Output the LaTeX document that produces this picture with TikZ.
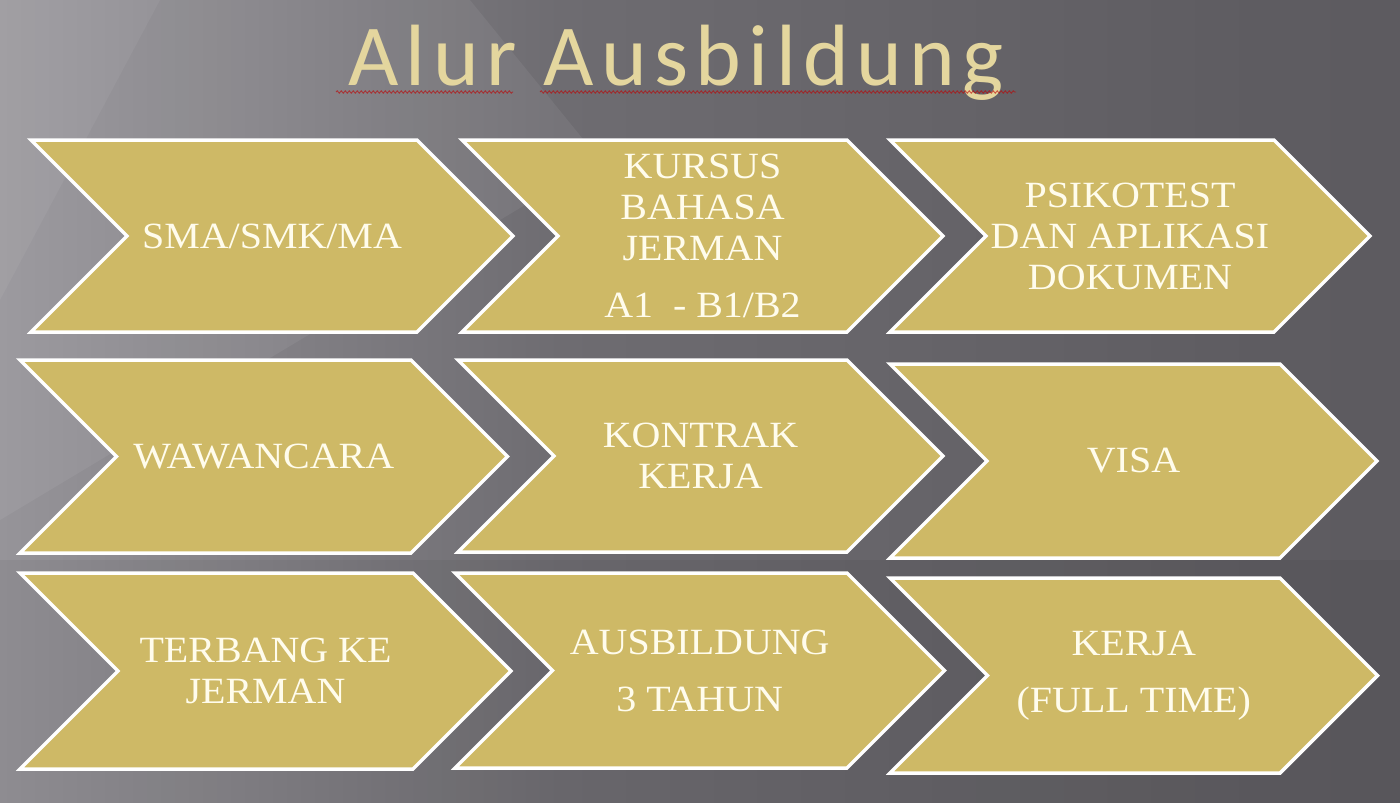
\documentclass[tikz,border=0pt]{standalone}
\usepackage{fontspec}
\newfontfamily\titlefont[LetterSpace=8.5]{Carlito}
\newfontfamily\boxfont[FakeStretch=1.08]{Liberation Serif}
\usetikzlibrary{decorations.pathmorphing}
\definecolor{gold}{RGB}{206,185,102}
\definecolor{titlegold}{RGB}{228,214,158}
\definecolor{cream}{RGB}{255,252,236}
\definecolor{bgA}{RGB}{170,168,173}
\definecolor{bgB}{RGB}{150,148,153}
\definecolor{bgC}{RGB}{110,108,113}
\definecolor{bgD}{RGB}{94,92,97}
\definecolor{bgE}{RGB}{88,86,91}
\pgfdeclarehorizontalshading{bgshade}{100bp}{color(0bp)=(bgA); color(25bp)=(bgB); color(45bp)=(bgC); color(70bp)=(bgD); color(100bp)=(bgE)}
\newcommand\chev[6]{%
  \pgfmathsetmacro\dd{(#5-#3)/2}%
  \draw[chevshape] (#2,#3) -- (#4,#3) -- (#4+\dd,#3+\dd) -- (#4,#5) -- (#2,#5) -- (#2+\dd,#3+\dd) -- cycle;
  \node[chevtext] (#1) at ({(#2+#4+\dd)/2},{#3+\dd}) {#6};
}
\begin{document}
\begin{tikzpicture}[x=1pt,y=-1pt,
  chevshape/.style={fill=gold, draw=white, line width=3.5pt, line join=miter},
  chevtext/.style={text=cream, align=center, font=\boxfont\fontsize{37}{41}\selectfont, inner sep=0pt},
  spell/.style={draw=red!75!black, opacity=0.6, line width=0.9pt, decorate, decoration={snake, amplitude=1.2pt, segment length=4pt}}]
\useasboundingbox (0,0) rectangle (1400,803);
\shade[shading=bgshade] (0,0) rectangle (1400,803);
% soft light streaks
\fill[white, opacity=0.06] (0,0) -- (470,0) -- (600,160) -- (0,520) -- cycle;
\fill[white, opacity=0.05] (0,0) -- (160,0) -- (0,300) -- cycle;
\fill[black, opacity=0.05] (0,560) -- (1400,560) -- (1400,803) -- (0,803) -- cycle;
% title
\node[anchor=base, text=titlegold, font=\titlefont\fontsize{87}{87}\selectfont, inner sep=0pt] (title) at (676,85) {Alur Ausbildung};
\draw[spell] (336,92) -- (513,92);
\draw[spell] (540,92) -- (1016,92);
% row 1
\chev{c11}{31}{140}{417}{332}{SMA/SMK/MA}
\chev{c12}{462}{140}{847}{332}{KURSUS\\BAHASA\\JERMAN\\[16pt]A1\ \ - B1/B2}
\chev{c13}{890}{140}{1274}{332}{PSIKOTEST\\DAN APLIKASI\\DOKUMEN}
% row 2
\chev{c21}{20}{360}{411}{553}{WAWANCARA}
\chev{c22}{458}{360}{847}{552}{KONTRAK\\KERJA}
\chev{c23}{890}{364}{1280}{558}{VISA}
% row 3
\chev{c31}{20}{573}{413}{769}{TERBANG KE\\JERMAN}
\chev{c32}{455}{573}{847}{768}{AUSBILDUNG\\[16pt]3 TAHUN}
\chev{c33}{890}{578}{1280}{773}{KERJA\\[16pt](FULL TIME)}
\end{tikzpicture}
\end{document}
